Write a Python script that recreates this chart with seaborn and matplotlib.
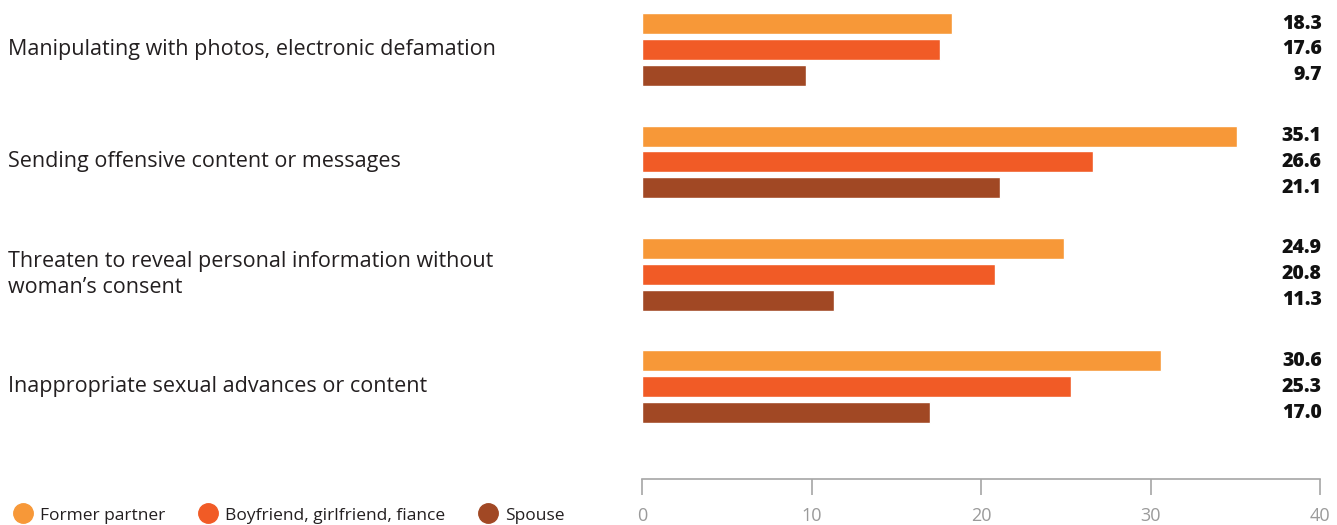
import matplotlib
matplotlib.use("Agg")
import matplotlib.pyplot as plt
import matplotlib.transforms as mtransforms
from matplotlib.lines import Line2D
import seaborn as sns
import pandas as pd

categories = [
    "Manipulating with photos, electronic defamation",
    "Sending offensive content or messages",
    "Threaten to reveal personal information without\nwoman\u2019s consent",
    "Inappropriate sexual advances or content",
]
series_names = ["Former partner", "Boyfriend, girlfriend, fiance", "Spouse"]
former_partner = [18.3, 35.1, 24.9, 30.6]
boyfriend = [17.6, 26.6, 20.8, 25.3]
spouse = [9.7, 21.1, 11.3, 17.0]
x_ticks = [0, 10, 20, 30, 40]

colors = ["#F79838", "#F15B26", "#A14824"]

rows = []
for name, vals in zip(series_names, [former_partner, boyfriend, spouse]):
    for c, v in zip(categories, vals):
        rows.append({"category": c, "series": name, "value": v})
df = pd.DataFrame(rows)

sns.set_style("white")
plt.rcParams["font.family"] = ["Open Sans", "DejaVu Sans"]

W, H = 1337, 525
fig = plt.figure(figsize=(W / 100, H / 100), dpi=100)
ax = fig.add_axes([642 / W, 1 - 479 / H, (1320 - 642) / W, 479 / H])

sns.barplot(data=df, y="category", x="value", hue="series", order=categories,
            hue_order=series_names, palette=colors, width=0.69, gap=0.19,
            orient="h", ax=ax, legend=False, saturation=1)

ax.set_xlim(0, 40)
ax.set_ylim(3.82, -0.44)
ax.set_xticks(x_ticks)
ax.set_xticklabels([str(t) for t in x_ticks], color="#9a9a9a", fontsize=13)
ax.tick_params(axis="x", direction="out", length=11.5, width=1.2, color="#a6a6a6", pad=9, bottom=True)
ax.tick_params(axis="y", left=False, labelleft=False)
ax.set_xlabel("")
ax.set_ylabel("")
for s in ["top", "right", "left"]:
    ax.spines[s].set_visible(False)
ax.spines["bottom"].set_color("#a6a6a6")
ax.spines["bottom"].set_linewidth(1.2)

# value labels
for cont, vals in zip(ax.containers, [former_partner, boyfriend, spouse]):
    for bar, v in zip(cont, vals):
        cy = bar.get_y() + bar.get_height() / 2
        ax.text(40.1, cy, f"{v:.1f}", ha="right", va="center", fontsize=14,
                fontweight="heavy", color="#111111", clip_on=False)

# category labels
trans = mtransforms.blended_transform_factory(fig.transFigure, ax.transData)
for i, c in enumerate(categories):
    ax.text(8 / W, i, c, transform=trans, ha="left", va="center", fontsize=15.5,
            color="#231f20", linespacing=1.35, clip_on=False)

handles = [Line2D([], [], marker="o", linestyle="none", markersize=14,
                  markerfacecolor=col, markeredgecolor=col) for col in colors]
fig.legend(handles, series_names, loc="lower left", bbox_to_anchor=(-3 / W, -0.027),
           ncol=3, frameon=False, fontsize=12.5, handletextpad=0.35,
           columnspacing=1.9, handlelength=1.2, labelcolor="#231f20")

fig.savefig("out.png", dpi=100)
